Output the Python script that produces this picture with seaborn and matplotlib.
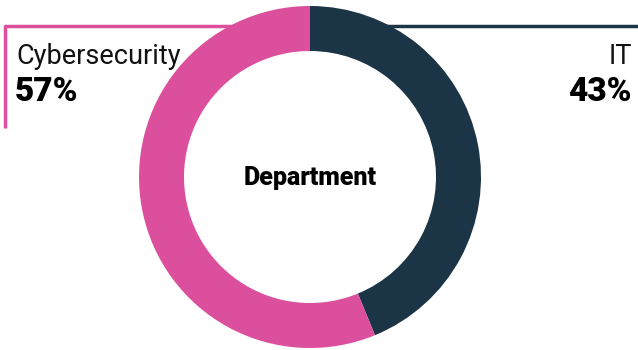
import matplotlib
matplotlib.use("Agg")
import matplotlib.pyplot as plt
import seaborn as sns

categories = ["IT", "Cybersecurity"]
values = [43.8, 56.2]
labels = ["43%", "57%"]
colors = ["#1c3546", "#db4f9c"]
center_title = "Department"

sns.set_theme(style="white")
plt.rcParams['font.family'] = ['Roboto', 'DejaVu Sans']

W, H = 638, 350
fig = plt.figure(figsize=(W / 100, H / 100), dpi=100)
ax = fig.add_axes([0, 0, 1, 1])

cx, cy, r, ring = 310, 177, 171, 45

# leader lines (behind donut)
ax.plot([5, 5, 260], [128, 26, 26], color=colors[1], lw=2.5, zorder=1, solid_capstyle='butt')
ax.plot([360, W], [26, 26], color=colors[0], lw=2.5, zorder=1, solid_capstyle='butt')

# y axis inverted -> counterclock=True renders clockwise on screen
wedges, _ = ax.pie(values, colors=colors, startangle=-90, counterclock=True,
                   center=(cx, cy), radius=r,
                   wedgeprops=dict(width=ring, linewidth=0), frame=True)
for w in wedges:
    w.set_zorder(2)
ax.set_xlim(0, W)
ax.set_ylim(H, 0)
ax.set_aspect('equal')
ax.axis('off')

ax.text(cx, cy + 1, center_title, ha='center', va='center', fontsize=18,
        fontweight='heavy', color='black', zorder=3)

ax.text(16, 64, categories[1], ha='left', va='baseline', fontsize=19.5,
        fontweight='normal', color='#111111', zorder=3)
ax.text(15, 101, labels[1], ha='left', va='baseline', fontsize=24,
        fontweight='heavy', color='black', zorder=3)

ax.text(632, 64, categories[0], ha='right', va='baseline', fontsize=19.5,
        fontweight='normal', color='#111111', zorder=3)
ax.text(632, 101, labels[0], ha='right', va='baseline', fontsize=24,
        fontweight='heavy', color='black', zorder=3)

fig.savefig("out.png", dpi=100, facecolor='white')
